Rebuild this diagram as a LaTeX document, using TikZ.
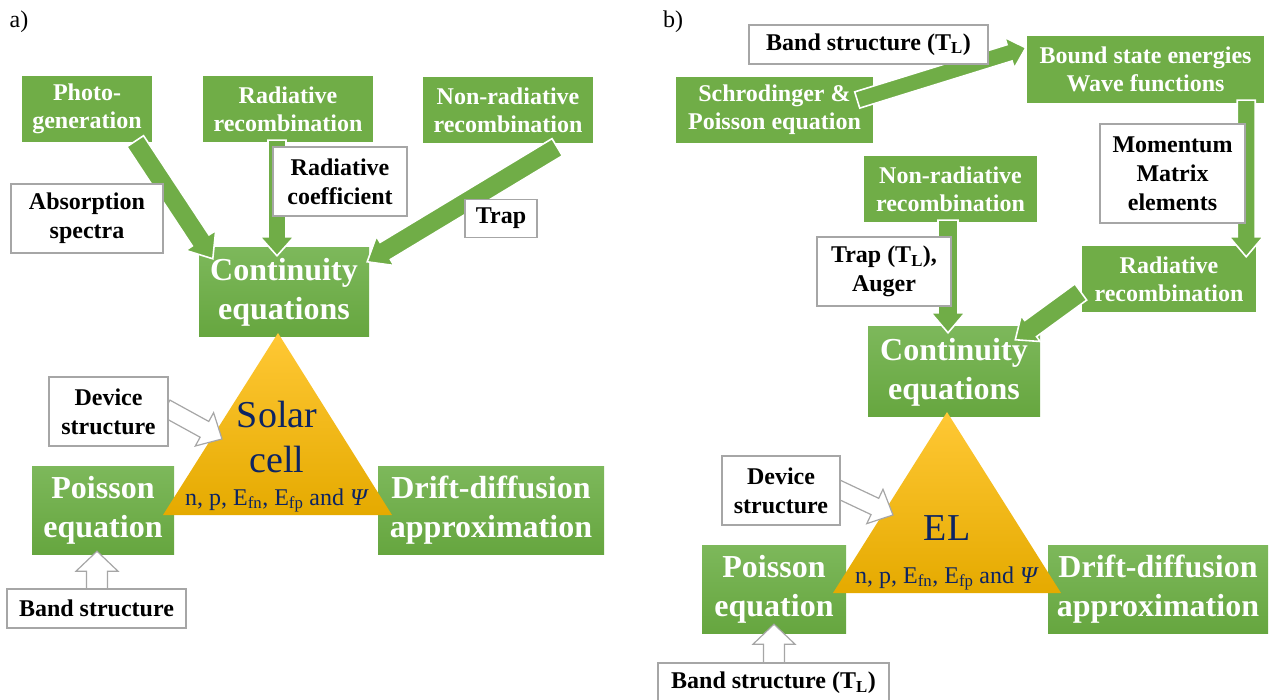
\documentclass[tikz,border=0pt]{standalone}
\usepackage{fontspec}
\setmainfont{Liberation Serif}
\usetikzlibrary{calc}
\usetikzlibrary{positioning}

\definecolor{grn}{HTML}{70AD47}
\definecolor{grntop}{HTML}{7DB85B}
\definecolor{grnbot}{HTML}{66A63F}
\definecolor{ytop}{HTML}{FFC835}
\definecolor{ymid}{HTML}{FFC000}
\definecolor{ybot}{HTML}{E5AA00}
\definecolor{navy}{HTML}{0C2463}
\definecolor{edge}{HTML}{A6A6A6}

\pgfdeclarelayer{back}
\pgfdeclarelayer{mid}
\pgfsetlayers{back,mid,main}

\tikzset{
  wh/.style 2 args={minimum width=#1pt, minimum height=#2pt},
  greenbox/.style={fill=grn, text=white, align=center, inner sep=0pt,
    font=\fontsize{24}{28}\selectfont\bfseries},
  mainbox/.style={greenbox, top color=grntop, bottom color=grnbot,
    font=\fontsize{32}{39}\selectfont\bfseries},
  inputbox/.style={draw=edge, line width=1.2pt, fill=white, align=center, inner sep=0pt,
    font=\fontsize{24}{29}\selectfont\bfseries},
  greenarrow/.style={fill=grn, draw=white, line width=1.6pt},
  hollowarrow/.style={fill=white, draw=edge, line width=1.2pt},
  celltext/.style={text=navy, align=center, font=\fontsize{38}{45}\selectfont},
  vartext/.style={text=navy, font=\fontsize{24}{28}\selectfont},
  panel/.style={font=\fontsize{24}{28}\selectfont}
}

% block arrow: style, from, to, half shaft, half head, head length
\newcommand{\blockarrow}[6]{%
  \path[#1] let \p1=(#2), \p2=(#3),
      \n1={atan2(\y2-\y1,\x2-\x1)}, \n2={veclen(\x2-\x1,\y2-\y1)} in
    [shift={(\p1)}, rotate=\n1]
    (0pt,-#4pt) -- (\n2-#6pt,-#4pt) -- (\n2-#6pt,-#5pt) -- (\n2,0pt)
    -- (\n2-#6pt,#5pt) -- (\n2-#6pt,#4pt) -- (0pt,#4pt) -- cycle;
}

\begin{document}
\begin{tikzpicture}[x=1pt, y=-1pt]
  \useasboundingbox (0,0) rectangle (1272,700);

  \node[panel] (labA) at (19,22) {a)};
  \node[panel] (labB) at (673,22) {b)};

  \begin{pgfonlayer}{back}
  \node[greenbox, wh={130}{66}] (photoL) at (87,109) {Photo-\\generation};
  \node[greenbox, wh={170}{66}] (radrecL) at (288,109) {Radiative\\recombination};
  \node[greenbox, wh={170}{66}] (nonradL) at (508,110) {Non-radiative\\recombination};
  \node[mainbox, wh={170}{89}] (contL) at (284,292.5) {Continuity\\equations};
  \node[mainbox, wh={142}{88}] (poisL) at (103,510) {Poisson\\equation};
  \node[mainbox, wh={226}{88}] (driftL) at (491,510) {Drift-diffusion\\approximation};

  \node[greenbox, wh={197}{66}] (schrR) at (774.5,110) {Schrodinger \&\\Poisson equation};
  \node[greenbox, wh={237}{67}] (boundR) at (1145.5,69.5) {Bound state energies\\Wave functions};
  \node[greenbox, wh={173}{66}] (nonradR) at (950.5,189) {Non-radiative\\recombination};
  \node[greenbox, wh={174}{66}] (radrecR) at (1169,279) {Radiative\\recombination};
  \node[mainbox, wh={172}{90}] (contR) at (954,372) {Continuity\\equations};
  \node[mainbox, wh={144}{88}] (poisR) at (774,589) {Poisson\\equation};
  \node[mainbox, wh={220}{88}] (driftR) at (1158,589) {Drift-diffusion\\approximation};

  \coordinate (apexL) at (278,333);
  \coordinate (leftL) at (163,515);
  \coordinate (rightL) at (392,515);
  \coordinate (apexR) at (947,412);
  \coordinate (leftR) at (833,593);
  \coordinate (rightR) at (1061,593);
  \shade[top color=ytop, middle color=ymid, bottom color=ybot] (apexL) -- (rightL) -- (leftL) -- cycle;
  \shade[top color=ytop, middle color=ymid, bottom color=ybot] (apexR) -- (rightR) -- (leftR) -- cycle;
  \end{pgfonlayer}

  \node[celltext] (solar) at (277,437) {Solar\\cell};
  \node[vartext, anchor=base] (varsL) at (277,505) {n, p, E\textsubscript{fn}, E\textsubscript{fp} and \textit{Ψ}};
  \node[celltext, anchor=base] (el) at (947,540) {EL};
  \node[vartext, anchor=base] (varsR) at (947,583) {n, p, E\textsubscript{fn}, E\textsubscript{fp} and \textit{Ψ}};

  \node[inputbox, wh={152}{69}] (absL) at (87,218.5) {Absorption\\spectra};
  \node[inputbox, wh={134}{69}] (coefL) at (340,181.5) {Radiative\\coefficient};
  \node[inputbox, wh={72}{38}] (trapL) at (501,218.5) {Trap};
  \node[inputbox, wh={119}{69}] (devL) at (108.5,411.5) {Device\\structure};
  \node[inputbox, wh={179}{39}] (bandL) at (96.5,608.5) {Band structure};

  \node[inputbox, wh={239}{39}] (bandTR) at (868.5,44.5) {Band structure (T\textsubscript{L})};
  \node[inputbox, wh={145}{99}] (momR) at (1172.5,173.5) {Momentum\\Matrix\\elements};
  \node[inputbox, wh={134}{69}] (trapR) at (884,271.5) {Trap (T\textsubscript{L}),\\Auger};
  \node[inputbox, wh={118}{69}] (devR) at (781,490.5) {Device\\structure};
  \node[inputbox, wh={231}{39}] (bandBR) at (773.5,682.5) {Band structure (T\textsubscript{L})};

  \begin{pgfonlayer}{mid}
  \blockarrow{greenarrow}{$(photoL.south east)+(-17,-1)$}{$(contL.north west)+(14,11)$}{10}{18}{22}
  \blockarrow{greenarrow}{$(radrecL.south)+(-11,-2)$}{$(contL.north)+(-7,8)$}{9}{17}{19}
  \blockarrow{greenarrow}{$(nonradL.south east)+(-36,4)$}{$(contL.north east)+(-2,14)$}{10}{17}{21}
  \blockarrow{hollowarrow}{$(devL.east)+(-3,-3.5)$}{$(apexL)+(-56,106)$}{9}{19}{20}
  \blockarrow{hollowarrow}{$(bandL.north)+(0.5,2)$}{$(poisL.south)+(-6,-3)$}{10.5}{21}{20}

  \blockarrow{greenarrow}{$(schrR.east)+(-16,-10)$}{$(boundR.north west)+(-1,12)$}{8.5}{16}{17}
  \blockarrow{greenarrow}{$(boundR.south east)+(-18,-3)$}{$(radrecR.north east)+(-10,11)$}{9}{17}{20}
  \blockarrow{greenarrow}{$(nonradR.south)+(-2.5,-2)$}{$(contR.north)+(-6,6)$}{10}{17}{20}
  \blockarrow{greenarrow}{$(radrecR.west)+(-1,13)$}{$(contR.north east)+(-25,13)$}{10}{16}{19}
  \blockarrow{hollowarrow}{$(devR.east)+(-7,-3.5)$}{$(apexR)+(-54,103)$}{9}{19}{20}
  \blockarrow{hollowarrow}{$(bandBR.north)+(0.5,2)$}{$(poisR.south)+(0,-9)$}{10.5}{21}{20}
  \end{pgfonlayer}
\end{tikzpicture}
\end{document}
